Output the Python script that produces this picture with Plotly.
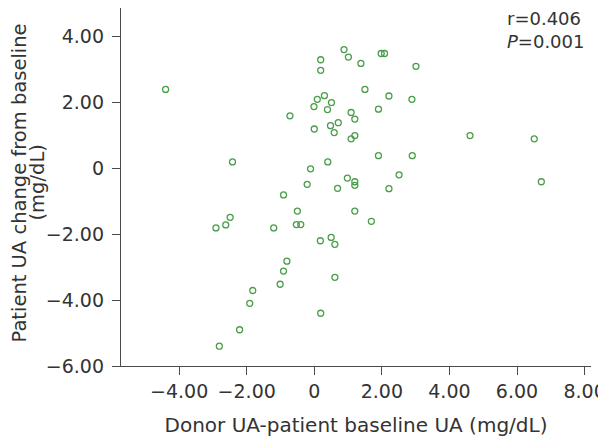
import plotly.graph_objects as go

# Donor UA - patient baseline UA (mg/dL)
donor_minus_baseline = [
    -4.40, -2.42, -2.91, -2.62, -2.49, -2.81, -2.21, -1.91, -1.82, -1.20,
    -1.01, -0.91, -0.81, -0.91, -0.72, -0.50, -0.53, -0.40, -0.21, -0.11,
    -0.01, 0.00, 0.09, 0.19, 0.19, 0.30, 0.39, 0.51, 0.40, 0.48,
    0.59, 0.71, 0.18, 0.50, 0.61, 0.69, 0.61, 0.19, 0.88, 1.01,
    1.38, 1.09, 1.20, 1.09, 1.20, 0.98, 1.20, 1.20, 1.20, 1.50,
    1.69, 1.90, 1.90, 1.98, 2.08, 2.21, 2.21, 2.51, 2.89, 2.90,
    3.01, 4.61, 6.51, 6.72,
]
# Patient UA change from baseline (mg/dL)
patient_change = [
    2.39, 0.19, -1.81, -1.72, -1.49, -5.40, -4.90, -4.10, -3.71, -1.81,
    -3.52, -3.12, -2.82, -0.81, 1.59, -1.30, -1.71, -1.71, -0.49, -0.02,
    1.87, 1.19, 2.09, 3.29, 2.97, 2.20, 1.78, 1.99, 0.19, 1.29,
    1.08, 1.38, -2.20, -2.10, -2.31, -0.61, -3.31, -4.40, 3.60, 3.37,
    3.18, 1.69, 1.49, 0.89, 0.99, -0.30, -0.41, -0.52, -1.30, 2.39,
    -1.61, 1.79, 0.38, 3.48, 3.48, 2.19, -0.62, -0.20, 2.09, 0.38,
    3.09, 0.99, 0.89, -0.41,
]

x_tickvals = [-4, -2, 0, 2, 4, 6, 8]
x_ticktext = ["\u22124.00", "\u22122.00", "0", "2.00", "4.00", "6.00", "8.00"]
y_tickvals = [-6, -4, -2, 0, 2, 4]
y_ticktext = ["\u22126.00", "\u22124.00", "\u22122.00", "0", "2.00", "4.00"]

x_title = "Donor UA-patient baseline UA (mg/dL)"
y_title_lines = ["Patient UA change from baseline", "(mg/dL)"]
stats_text = "r=0.406<br><i>P</i>=0.001"

FONT = "DejaVu Sans"
TXT = "#333333"
AX = "#4a4a4a"

# the page body has an 8px default margin, so the figure is 8px smaller each way
W, H = 598, 430
L, R, T, B = 113, 15, 0, 72
plot_w = W - L - R
plot_h = H - T - B

fig = go.Figure()
fig.add_trace(go.Scatter(
    x=donor_minus_baseline, y=patient_change, mode="markers",
    marker=dict(symbol="circle-open", size=6, color="#4a9e4a",
                line=dict(width=1.3, color="#4a9e4a")),
    showlegend=False, hoverinfo="x+y",
))

# y-axis title, two tightly spaced rotated lines
y_title_ann = []
for line, px in zip(y_title_lines, [10.5, 28.5]):
    y_title_ann.append(dict(
        text=line, xref="paper", yref="paper",
        x=(px - L) / plot_w, y=1 - 175 / plot_h,
        xanchor="center", yanchor="middle", textangle=-90, showarrow=False,
        font=dict(family=FONT, size=19.5, color=TXT),
    ))

fig.update_layout(
    width=W, height=H,
    margin=dict(l=L, r=R, t=T, b=B, autoexpand=False),
    paper_bgcolor="white", plot_bgcolor="white",
    font=dict(family=FONT, color=TXT, size=19),
    xaxis=dict(
        range=[-5.72, 8.19], tickvals=x_tickvals, ticktext=x_ticktext,
        automargin=False,
        showgrid=False, zeroline=False, showline=True, linecolor=AX, linewidth=1.3,
        ticks="outside", ticklen=8, tickwidth=1.3, tickcolor=AX,
        tickfont=dict(family=FONT, size=19, color=TXT),
        title=dict(text=x_title,
                   font=dict(family=FONT, size=20, color=TXT), standoff=17),
    ),
    yaxis=dict(
        range=[-6, 4.86], tickvals=y_tickvals, ticktext=y_ticktext,
        automargin=False,
        showgrid=False, zeroline=False, showline=True, linecolor=AX, linewidth=1.3,
        ticks="outside", ticklen=8, tickwidth=1.3, tickcolor=AX,
        tickfont=dict(family=FONT, size=19, color=TXT), ticklabelstandoff=4,
    ),
    annotations=[dict(
        text=stats_text, xref="paper", yref="paper", x=(497 - L) / plot_w, y=1.0,
        xanchor="left", yanchor="top", showarrow=False, align="left", yshift=2,
        font=dict(family=FONT, size=18, color=TXT),
    )] + y_title_ann,
)

fig.write_html("out.html")
